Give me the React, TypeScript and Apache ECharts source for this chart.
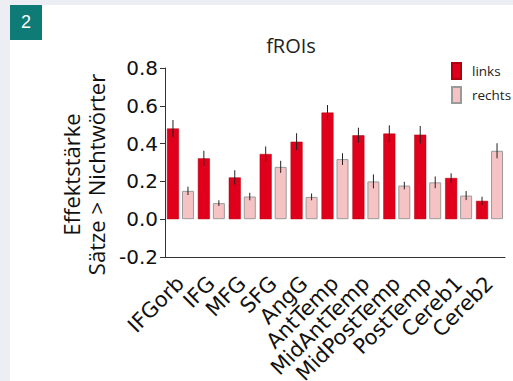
import React, { useEffect, useRef } from "react";
import * as echarts from "echarts";

const categories = ["IFGorb", "IFG", "MFG", "SFG", "AngG", "AntTemp", "MidAntTemp", "MidPostTemp", "PostTemp", "Cereb1", "Cereb2"];
const linksValues = [0.48, 0.322, 0.221, 0.345, 0.41, 0.564, 0.444, 0.453, 0.447, 0.218, 0.097];
const linksErrors = [0.045, 0.04, 0.038, 0.04, 0.045, 0.04, 0.04, 0.044, 0.046, 0.025, 0.022];
const rechtsValues = [0.15, 0.085, 0.12, 0.277, 0.118, 0.318, 0.2, 0.178, 0.195, 0.125, 0.362];
const rechtsErrors = [0.022, 0.015, 0.02, 0.032, 0.018, 0.031, 0.037, 0.02, 0.031, 0.024, 0.04];
const yTicks = { min: -0.2, max: 0.8, interval: 0.2 };

const FONT = "DejaVu Sans";
const FONT2 = "Open Sans";
const BAR_W = 12;
const BAR_GAP_PX = 3;

function errorSeries(values: number[], errors: number[], side: number) {
  return {
    type: "custom",
    silent: true,
    z: 5,
    data: values.map((v, i) => [i, v - errors[i], v + errors[i]]),
    renderItem: (params: any, api: any) => {
      const i = api.value(0);
      const lo = api.coord([i, api.value(1)]);
      const hi = api.coord([i, api.value(2)]);
      const x = lo[0] + side * (BAR_W + BAR_GAP_PX) / 2;
      return {
        type: "line",
        shape: { x1: x, y1: lo[1], x2: x, y2: hi[1] },
        style: { stroke: "#222", lineWidth: 1 },
      };
    },
  };
}

export default function App() {
  const ref = useRef<HTMLDivElement>(null);
  useEffect(() => {
    document.body.style.margin = "0";
    const chart = echarts.init(ref.current!, null, { renderer: "svg" });
    chart.setOption({
      animation: false,
      backgroundColor: "#eceef3",
      textStyle: { fontFamily: FONT },
      graphic: [
        { type: "rect", shape: { x: 10, y: 5, width: 503, height: 376 }, style: { fill: "#ffffff" }, z: -10 },
        { type: "rect", shape: { x: 10, y: 5, width: 32, height: 35 }, style: { fill: "#0f7b76" }, z: 10 },
        { type: "text", x: 26, y: 22, style: { text: "2", fill: "#ffffff", font: "18px Arial", textAlign: "center", textVerticalAlign: "middle" }, z: 11 },
      ],
      title: {
        text: "fROIs",
        left: 286,
        top: 30,
        textAlign: "center",
        textStyle: { fontFamily: FONT2, fontSize: 20, fontWeight: "normal", color: "#222" },
      },
      legend: {
        orient: "vertical",
        left: 446,
        top: 57,
        itemWidth: 9,
        itemHeight: 16,
        itemGap: 6,
        icon: "rect",
        textStyle: { fontFamily: FONT2, fontSize: 13.5, color: "#222", padding: [0, 0, 0, 6] },
        data: ["links", "rechts"],
      },
      grid: { left: 165, top: 68, right: 8, bottom: 124, containLabel: false, outerBoundsMode: "none" },
      xAxis: {
        type: "category",
        data: categories,
        position: "bottom",
        axisLine: { onZero: false, lineStyle: { color: "#333", width: 1 } },
        axisTick: { inside: true, length: 4, alignWithLabel: false, lineStyle: { color: "#333" } },
        axisLabel: { rotate: 45, fontSize: 21, color: "#111", fontFamily: FONT, margin: 23, interval: 0 },
      },
      yAxis: {
        type: "value",
        min: yTicks.min,
        max: yTicks.max,
        interval: yTicks.interval,
        name: "Effektstärke\nSätze > Nichtwörter",
        nameLocation: "middle",
        nameRotate: 90,
        nameGap: 47,
        nameTextStyle: { fontFamily: FONT2, fontSize: 22, color: "#111", lineHeight: 25, padding: [0, 24, 0, 0] },
        splitLine: { show: false },
        axisLine: { show: true, lineStyle: { color: "#333", width: 1 } },
        axisTick: { show: true, length: 5, lineStyle: { color: "#333" } },
        axisLabel: { fontSize: 20, color: "#111", fontFamily: FONT, margin: 7, formatter: (v: number) => v.toFixed(1) },
      },
      series: [
        {
          name: "links",
          type: "bar",
          data: linksValues,
          barWidth: BAR_W,
          barGap: "25%",
          itemStyle: { color: "#e0001b", borderColor: "#b0000f", borderWidth: 0.5 },
        },
        {
          name: "rechts",
          type: "bar",
          data: rechtsValues,
          barWidth: BAR_W,
          barGap: "25%",
          itemStyle: { color: "#f6c3c4", borderColor: "#9a9a9a", borderWidth: 1 },
        },
        errorSeries(linksValues, linksErrors, -1),
        errorSeries(rechtsValues, rechtsErrors, 1),
      ],
    });
    return () => chart.dispose();
  }, []);
  return <div ref={ref} style={{ width: 513, height: 381 }} />;
}
